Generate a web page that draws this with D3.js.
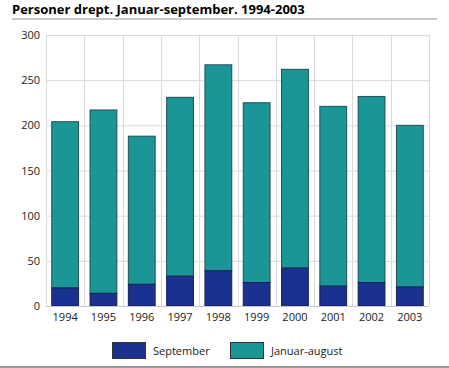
<!DOCTYPE html>
<html><head><meta charset="utf-8">
<script src="https://cdn.jsdelivr.net/npm/d3@7"></script>
<style>body{margin:0;background:#fff}svg{display:block}text{font-family:"Open Sans","DejaVu Sans",sans-serif}</style>
</head><body><svg id="c" width="449" height="368"></svg>
<script>
const years = ["1994","1995","1996","1997","1998","1999","2000","2001","2002","2003"];
const september = [20,14,24,33,39,26,42,22,26,21];
const totals = [204,217,188,231,267,225,262,221,232,200];
const janAug = totals.map((t,i)=>t-september[i]);
const yTicks = [0,50,100,150,200,250,300];
const seriesNames = ["September","Januar-august"];
const colors = ["#1a318f","#1a9696"];

const svg = d3.select("#c");
const m = {l:46, r:429, t:35, b:306};
const x = d3.scaleBand().domain(years).range([m.l,m.r]).paddingInner(0.3).paddingOuter(0.15);
const y = d3.scaleLinear().domain([0,300]).range([m.b,m.t]);

svg.append("text").attr("x",12).attr("y",14).attr("font-size",13).attr("font-weight","bold").attr("fill","#000").text("Personer drept. Januar-september. 1994-2003");
svg.append("rect").attr("x",12).attr("y",18).attr("width",425).attr("height",2).attr("fill","#c8c8c8");

// grid
const g = svg.append("g");
g.selectAll("line.h").data(yTicks).join("line").attr("x1",m.l).attr("x2",m.r).attr("y1",d=>y(d)+0.5).attr("y2",d=>y(d)+0.5).attr("stroke","#d9d9d9");
const step = x.step();
const vx = d3.range(years.length+1).map(i=>m.l + i*step);
g.selectAll("line.v").data(vx).join("line").attr("x1",d=>Math.round(d)+0.5).attr("x2",d=>Math.round(d)+0.5).attr("y1",m.t).attr("y2",m.b).attr("stroke","#d9d9d9");

// y axis labels
svg.append("g").selectAll("text").data(yTicks).join("text").attr("x",40).attr("y",d=>y(d)+4).attr("text-anchor","end").attr("font-size",11).attr("fill","#222").text(d=>d);
// x labels
svg.append("g").selectAll("text").data(years).join("text").attr("x",d=>x(d)+x.bandwidth()/2).attr("y",321).attr("text-anchor","middle").attr("font-size",11).attr("fill","#222").text(d=>d);

// bars
const bars = svg.append("g");
bars.selectAll("rect.ja").data(years).join("rect").attr("x",d=>x(d)).attr("width",x.bandwidth())
  .attr("y",(d,i)=>y(totals[i])).attr("height",(d,i)=>y(september[i])-y(totals[i]))
  .attr("fill",colors[1]).attr("stroke","#1f4f55").attr("stroke-width",1);
bars.selectAll("rect.se").data(years).join("rect").attr("x",d=>x(d)).attr("width",x.bandwidth())
  .attr("y",(d,i)=>y(september[i])).attr("height",(d,i)=>y(0)-y(september[i]))
  .attr("fill",colors[0]).attr("stroke","#14225a").attr("stroke-width",1);

// axis line
svg.append("line").attr("x1",m.l).attr("x2",m.r).attr("y1",m.b+0.5).attr("y2",m.b+0.5).attr("stroke","#c8c8c8");

// legend
const lx = [112,230];
const lg = svg.append("g");
seriesNames.forEach((n,i)=>{
  lg.append("rect").attr("x",lx[i]+0.5).attr("y",342.5).attr("width",33).attr("height",16).attr("fill",colors[i]).attr("stroke","#333");
  lg.append("text").attr("x",lx[i]+41).attr("y",355).attr("font-size",11).attr("fill","#222").text(n);
});
svg.append("rect").attr("x",0).attr("y",366).attr("width",449).attr("height",2).attr("fill","#999");
</script></body></html>
